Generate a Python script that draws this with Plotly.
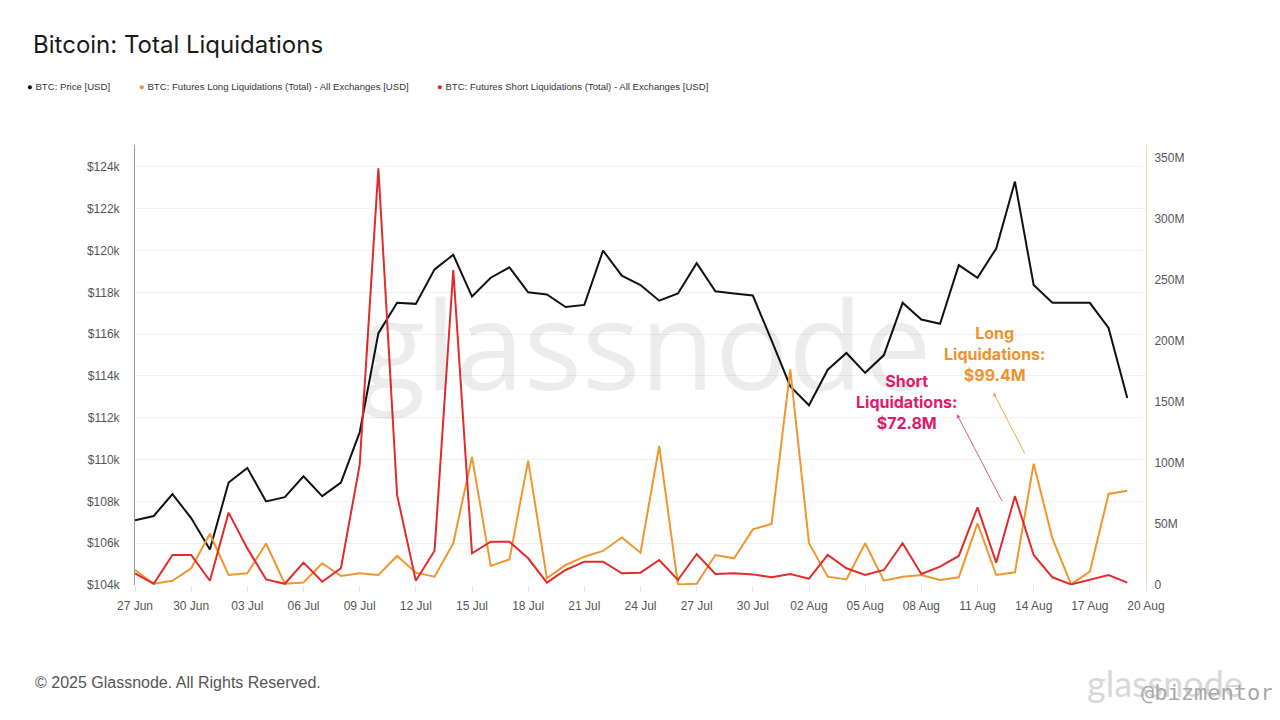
import pandas as pd
import plotly.graph_objects as go

## Data (daily, 27 Jun - 19 Aug 2025)

dates = pd.date_range("2025-06-27", "2025-08-19", freq="D")

price = [107.1, 107.3, 108.35, 107.2, 105.7, 108.9, 109.6, 108.0, 108.2, 109.2,
         108.25, 108.9, 111.3, 116.05, 117.5, 117.45, 119.1, 119.8, 117.8, 118.7,
         119.2, 118.0, 117.9, 117.3, 117.4, 120.0, 118.8, 118.35, 117.6, 117.95,
         119.4, 118.05, 117.95, 117.85, 115.7, 113.5, 112.6, 114.3, 115.1, 114.15,
         115.0, 117.5, 116.7, 116.5, 119.3, 118.7, 120.1, 123.3, 118.35, 117.5,
         117.5, 117.5, 116.3, 112.95]  # $k

long_liq = [12.3, 1.0, 3.5, 13.7, 42.0, 8.2, 9.6, 34.0, 1.0, 2.0,
            17.8, 7.4, 9.6, 8.2, 23.8, 10.1, 6.8, 34.2, 105.0, 15.6,
            21.0, 101.9, 5.5, 16.4, 23.2, 27.9, 39.0, 26.5, 114.0, 0.5,
            1.0, 24.6, 21.9, 45.6, 50.0, 176.8, 34.2, 6.8, 4.6, 34.2,
            3.5, 6.8, 8.2, 4.1, 6.3, 50.5, 8.2, 10.4, 99.4, 38.2,
            0.5, 10.9, 74.6, 77.3]  # $M

short_liq = [9.6, 1.0, 24.6, 24.6, 3.5, 59.3, 30.0, 4.6, 1.0, 18.3,
             2.7, 13.7, 98.4, 341.5, 73.8, 3.5, 28.1, 258.2, 26.0, 35.5,
             35.5, 21.9, 2.0, 12.3, 19.1, 19.1, 9.6, 10.1, 20.5, 4.1,
             25.4, 9.0, 9.6, 8.7, 6.3, 9.0, 5.2, 24.6, 13.7, 8.2,
             12.3, 34.2, 9.0, 15.0, 23.8, 63.7, 18.3, 72.8, 24.6, 6.3,
             0.5, 4.6, 8.2, 2.0]  # $M

series_names = ["BTC: Price [USD]",
                "BTC: Futures Long Liquidations (Total) - All Exchanges [USD]",
                "BTC: Futures Short Liquidations (Total) - All Exchanges [USD]"]
colors = ["#111111", "#f0962e", "#e22b2b"]

fig = go.Figure()

fig.add_trace(go.Scatter(x=dates, y=[p * 1000 for p in price], mode="lines",
                         line=dict(color=colors[0], width=2),
                         name=series_names[0], yaxis="y"))
fig.add_trace(go.Scatter(x=dates, y=[v * 1e6 for v in long_liq], mode="lines",
                         line=dict(color=colors[1], width=2),
                         name=series_names[1], yaxis="y2"))
fig.add_trace(go.Scatter(x=dates, y=[v * 1e6 for v in short_liq], mode="lines",
                         line=dict(color=colors[2], width=2),
                         name=series_names[2], yaxis="y2"))

# page has an 8px body margin, so the figure is 1272x712
fig.update_layout(
    width=1272, height=712,
    paper_bgcolor="white", plot_bgcolor="white",
    margin=dict(l=127, r=134, t=137, b=135),
    showlegend=False,
    font=dict(family="Liberation Sans, Arial, sans-serif", color="#444"),
    title=dict(text="Bitcoin: Total Liquidations", x=0.0197, xanchor="left",
               y=0.949, yanchor="middle",
               font=dict(size=24, color="#1a1a1a", family="Inter, sans-serif")),
    xaxis=dict(range=["2025-06-27", "2025-08-20"], tickformat="%d %b",
               dtick=3 * 86400000, tick0="2025-06-27",
               showgrid=False, showline=False, ticks="outside",
               tickcolor="#e6e6e6", ticklen=6, ticklabelstandoff=4,
               tickfont=dict(size=12, color="#555"), zeroline=False),
    yaxis=dict(range=[104000, 125050], tickvals=list(range(104000, 124001, 2000)),
               tickformat="$.3s", showgrid=True, gridcolor="#f0f0f0",
               showline=True, linecolor="#9a9a9a", linewidth=1,
               ticklabelstandoff=12,
               tickfont=dict(size=12, color="#555"), ticks="", zeroline=False),
    yaxis2=dict(range=[0, 360.6e6], overlaying="y", side="right",
                tickvals=[i * 50e6 for i in range(8)], tickformat="~s",
                showgrid=False, showline=True, linecolor="#f8dcb0", linewidth=1,
                ticklabelstandoff=5,
                tickfont=dict(size=12, color="#555"), zeroline=False),
)

# legend drawn by hand: dot + label, spaced like the original
legend_x = [-0.1088, 0.002, 0.2967]
for name, c, lx in zip(series_names, colors, legend_x):
    fig.add_annotation(text=f'<span style="color:{c}">●</span> {name}',
                       xref="paper", yref="paper", x=lx, y=1.132,
                       xanchor="left", yanchor="middle", showarrow=False,
                       font=dict(size=9.6, color="#333"))

# background watermark
fig.add_annotation(text="glassnode", xref="paper", yref="paper", x=0.5045, y=0.55,
                   showarrow=False, font=dict(size=122, family="Open Sans, sans-serif",
                                              color="rgba(0,0,0,0.075)"))

# callouts
fig.add_annotation(text="<b>Short<br>Liquidations:<br>$72.8M</b>", x="2025-08-07 04:30",
                   y=150e6, yref="y2", showarrow=False,
                   font=dict(size=16, color="#e0196a", family="Inter, sans-serif"),
                   align="center")
fig.add_annotation(text="<b>Long<br>Liquidations:<br>$99.4M</b>", x="2025-08-11 21:20",
                   y=189e6, yref="y2", showarrow=False,
                   font=dict(size=16, color="#f0922b", family="Inter, sans-serif"),
                   align="center")
fig.add_annotation(text="", x="2025-08-09 21:30", y=140e6, yref="y2",
                   ax="2025-08-12 08:30", ay=67.5e6, axref="x", ayref="y2",
                   showarrow=True, arrowhead=2, arrowsize=0.8, arrowwidth=1,
                   arrowcolor="#d9559c")
fig.add_annotation(text="", x="2025-08-11 20:20", y=157.6e6, yref="y2",
                   ax="2025-08-13 13:30", ay=106.6e6, axref="x", ayref="y2",
                   showarrow=True, arrowhead=2, arrowsize=0.8, arrowwidth=1,
                   arrowcolor="#f2a54a")

# footer
fig.add_annotation(text="© 2025 Glassnode. All Rights Reserved.", xref="paper", yref="paper",
                   x=-0.1009, y=-0.2227, xanchor="left", yanchor="middle", showarrow=False,
                   font=dict(size=16, color="#555"))
fig.add_annotation(text="glassnode", xref="paper", yref="paper", x=1.098, y=-0.2227,
                   xanchor="right", yanchor="middle", showarrow=False,
                   font=dict(size=36, color="#d8d8d8", family="Lato, sans-serif"))
fig.add_annotation(text="@bizmentor", xref="paper", yref="paper", x=1.1276, y=-0.245,
                   xanchor="right", yanchor="middle", showarrow=False,
                   font=dict(size=22, color="#a8a8a8", family="DejaVu Sans Mono"))

fig.write_html("out.html")
